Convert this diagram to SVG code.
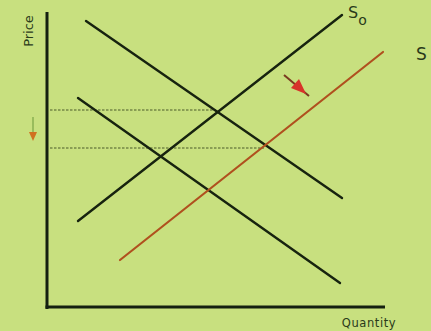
<svg xmlns="http://www.w3.org/2000/svg" width="431" height="331" viewBox="0 0 431 331">
<style>
.ax{stroke:#142010;stroke-width:3;fill:none}
.d{stroke:#17230f;stroke-width:2.4;fill:none;stroke-linecap:round}
.s1{stroke:#b0501e;stroke-width:2.2;fill:none;stroke-linecap:round}
.dash{stroke:#4a5a2a;stroke-width:1;stroke-dasharray:2.5,1.5;fill:none}
.lbl{font-family:"DejaVu Sans",Verdana,sans-serif;fill:#2a3a1a}
</style>
<rect width="431" height="331" fill="#c8e07f"/>
<g id="axes">
<line class="ax" x1="47" y1="12" x2="47" y2="309"/>
<line class="ax" x1="45.5" y1="307" x2="385" y2="307"/>
<text class="lbl" font-size="13" transform="translate(33,31) rotate(-90)" text-anchor="middle">Price</text>
<text class="lbl" font-size="11.5" x="369" y="327" text-anchor="middle" letter-spacing="0.6">Quantity</text>
</g>
<g id="connectors">
<line class="dash" x1="50" y1="110" x2="216" y2="110"/>
<line class="dash" x1="50" y1="148" x2="264" y2="148"/>
</g>
<g id="demand1"><path class="d" d="M86,21 L342,198"/></g>
<g id="demand2"><path class="d" d="M78,98 L340,283"/></g>
<g id="supply0">
<path class="d" d="M78,221 L342,15"/>
<text class="lbl" font-size="16" x="348" y="18">S<tspan font-size="14" dy="7">o</tspan></text>
</g>
<g id="supply1">
<path class="s1" d="M120,260 L383,52"/>
<text class="lbl" font-size="17" x="416" y="60">S</text>
</g>
<g id="shift-arrow">
<line x1="284" y1="75" x2="309" y2="96" stroke="#7a3a20" stroke-width="2"/>
<polygon points="306,94 291,88 299,79" fill="#d8332a"/>
</g>
<g id="price-arrow">
<line x1="33" y1="117" x2="33" y2="133" stroke="#8ab050" stroke-width="1.5"/>
<polygon points="29,132 37,132 33,141" fill="#d07020"/>
</g>
</svg>
